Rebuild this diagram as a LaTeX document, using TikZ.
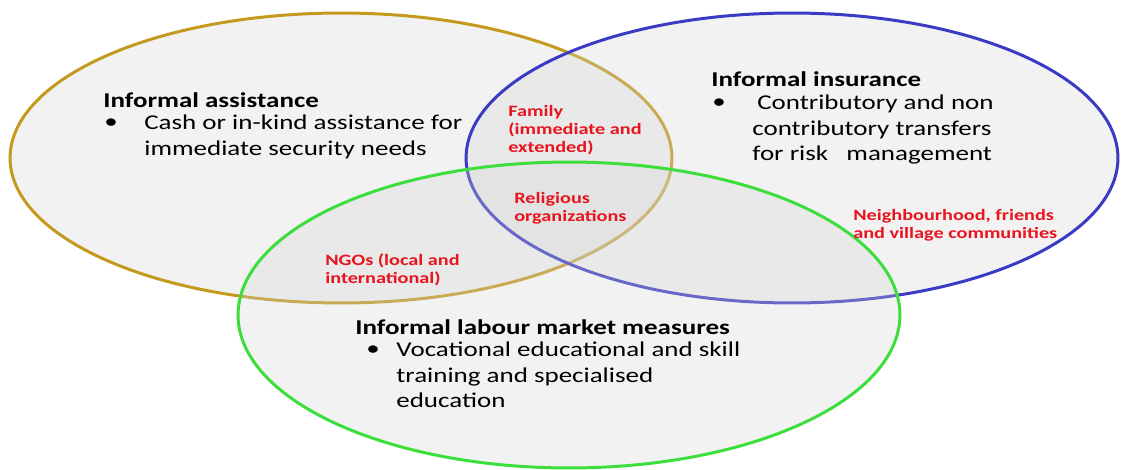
\documentclass[tikz,border=0pt]{standalone}
\usepackage{fontspec}
\setmainfont{Carlito}[FakeStretch=1.28]

\definecolor{assistgold}{RGB}{196,154,30}
\definecolor{insureblue}{RGB}{58,58,196}
\definecolor{labourgreen}{RGB}{60,222,60}
\definecolor{memberred}{RGB}{232,20,30}
\definecolor{setfill}{RGB}{212,212,212}

\begin{document}
\begin{tikzpicture}[x=0.02cm,y=-0.02cm,
    setring/.style={line width=1.7pt,fill=setfill,fill opacity=0.3},
    headtext/.style={anchor=west,inner sep=0,font=\bfseries\fontsize{12}{14.5}\selectfont},
    dottext/.style={anchor=west,inner sep=0,font=\fontsize{12}{14.5}\selectfont},
    bodytext/.style={anchor=north west,inner sep=0,align=left,font=\fontsize{12}{14.5}\selectfont},
    membertext/.style={anchor=north west,inner sep=0,align=left,text=memberred,font=\bfseries\fontsize{9}{10.2}\selectfont}]
    \useasboundingbox (0,0) rectangle (1126,470);
    % the three rings
    \draw [setring,draw=assistgold] (341,158) ellipse [x radius=6.62cm,y radius=2.9cm];
    \draw [setring,draw=insureblue] (792,158) ellipse [x radius=6.52cm,y radius=2.9cm];
    \draw [setring,draw=labourgreen] (569,315) ellipse [x radius=6.62cm,y radius=3.06cm];
    % informal assistance
    \node [headtext] (assisthead) at (103,100) {Informal assistance};
    \node [dottext] (assistdot) at (104,124) {\textbullet};
    \node [bodytext] (assistbody) at (144,115) {Cash or in-kind assistance for\\immediate security needs};
    % informal insurance
    \node [headtext] (insurehead) at (711,79) {Informal insurance};
    \node [dottext] (insuredot) at (712,104) {\textbullet};
    \node [bodytext] (insurebody) at (752,95) {\hspace{2.8pt}Contributory and non\\contributory transfers\\for risk\ \ \ management};
    % informal labour market measures
    \node [headtext] (labourhead) at (355,327) {Informal labour market measures};
    \node [dottext] (labourdot) at (366,351) {\textbullet};
    \node [bodytext] (labourbody) at (396,342) {Vocational educational and skill\\training and specialised\\education};
    % who provides it
    \node [membertext] (family) at (508,105) {Family\\(immediate and\\extended)};
    \node [membertext] (religious) at (514,192) {Religious\\organizations};
    \node [membertext] (ngos) at (325,253) {NGOs (local and\\international)};
    \node [membertext] (neighbours) at (853,209) {Neighbourhood, friends\\and village communities};
\end{tikzpicture}
\end{document}
